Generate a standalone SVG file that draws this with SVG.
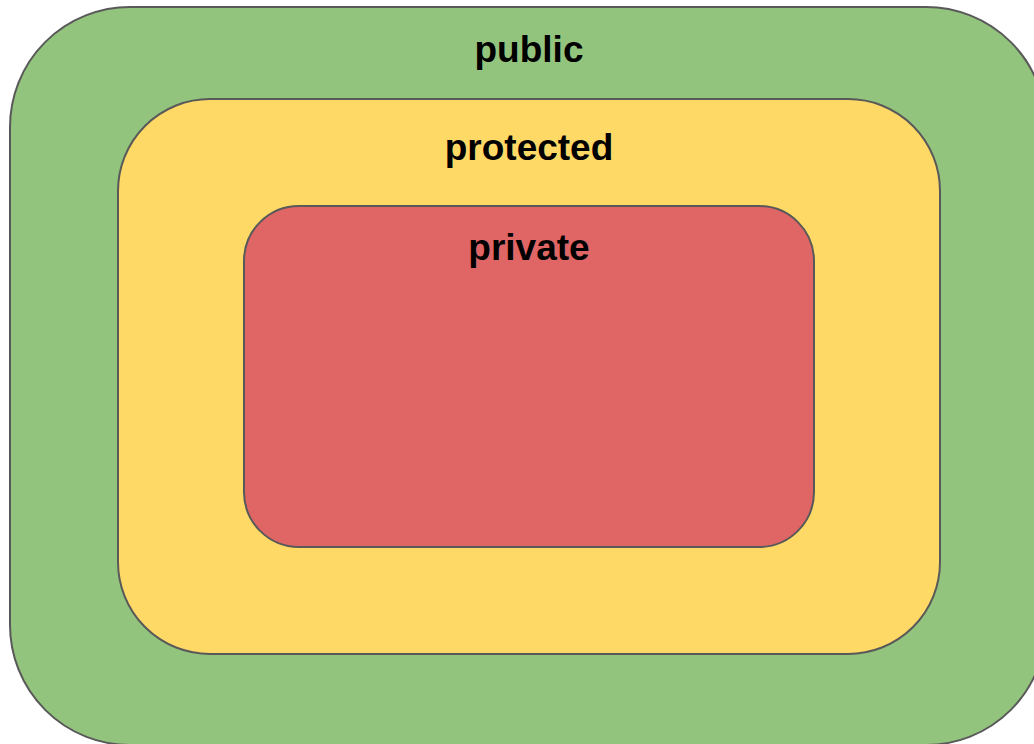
<svg xmlns="http://www.w3.org/2000/svg" width="1034" height="744" viewBox="0 0 1034 744">
<style>
.box{stroke:#595959;stroke-width:2}
.lbl{font-family:"Liberation Sans",Arial,sans-serif;font-weight:bold;font-size:37px;fill:#000;text-anchor:middle}
</style>
<rect x="0" y="0" width="1034" height="744" fill="#ffffff"/>
<g id="public">
<rect class="box" x="10" y="7" width="1036" height="738" rx="120" ry="120" fill="#93c47d"/>
<text class="lbl" x="529" y="62">public</text>
</g>
<g id="protected">
<rect class="box" x="118" y="99" width="822" height="555" rx="92" ry="92" fill="#ffd966"/>
<text class="lbl" x="529" y="160">protected</text>
</g>
<g id="private">
<rect class="box" x="244" y="206" width="570" height="341" rx="55" ry="55" fill="#e06666"/>
<text class="lbl" x="529" y="260">private</text>
</g>
<g id="connectors"></g>
</svg>
